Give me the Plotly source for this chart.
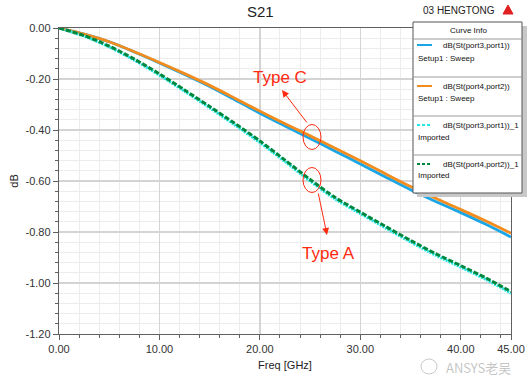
import plotly.graph_objects as go

# ---------------- data ----------------
freq_ghz = [0, 2.5, 5, 7.5, 10, 12.5, 15, 17.5, 20, 22.5, 25, 27.5, 30, 32.5, 35, 37.5, 40, 42.5, 45]
s31_sweep = [0, -0.024, -0.054, -0.094, -0.137, -0.182, -0.229, -0.281, -0.334, -0.384, -0.433,
             -0.483, -0.533, -0.584, -0.634, -0.680, -0.724, -0.770, -0.820]
s42_sweep = [0, -0.024, -0.054, -0.093, -0.135, -0.179, -0.225, -0.275, -0.326, -0.375, -0.423,
             -0.472, -0.521, -0.572, -0.622, -0.668, -0.712, -0.757, -0.805]
s31_imported = [0, -0.032, -0.074, -0.126, -0.185, -0.248, -0.313, -0.380, -0.449, -0.524, -0.600,
                -0.671, -0.728, -0.784, -0.839, -0.891, -0.938, -0.986, -1.040]
s42_imported = [0, -0.030, -0.071, -0.122, -0.180, -0.243, -0.308, -0.374, -0.443, -0.518, -0.594,
                -0.665, -0.722, -0.778, -0.833, -0.885, -0.932, -0.980, -1.034]

series_names = ["dB(St(port3,port1))", "dB(St(port4,port2))",
                "dB(St(port3,port1))_1", "dB(St(port4,port2))_1"]
series_sub = ["Setup1 : Sweep", "Setup1 : Sweep", "Imported", "Imported"]
series_colors = ["#1aa6e6", "#f28c1e", "#22e8e8", "#00873e"]
series_dash = ["solid", "solid", "2px,1px", "5px,2px"]

x_tick_vals = [0, 10, 20, 30, 40, 45]
x_tick_text = ["0.00", "10.00", "20.00", "30.00", "40.00", "45.00"]
y_tick_vals = [0, -0.2, -0.4, -0.6, -0.8, -1.0, -1.2]
y_tick_text = ["0.00", "-0.20", "-0.40", "-0.60", "-0.80", "-1.00", "-1.20"]

# ---------------- layout geometry ----------------
W, H = 532, 377
PL, PR, PT, PB = 59, 511, 28, 334   # plot area in pixels


def px(x):
    return (x - PL) / (PR - PL)


def py(y):
    return (PB - y) / (PB - PT)


FONT = "Arial, Liberation Sans, sans-serif"

fig = go.Figure()
values = [s31_sweep, s42_sweep, s31_imported, s42_imported]
for i in range(4):
    fig.add_trace(go.Scatter(
        x=freq_ghz, y=values[i], mode="lines", name=series_names[i],
        line=dict(color=series_colors[i], width=3 if i >= 2 else 2.8,
                  dash=series_dash[i], shape="spline", smoothing=0.8),
        showlegend=False, hoverinfo="skip"))

shapes = []
annotations = []

# title and header
annotations.append(dict(text="S21", x=px(260), y=py(12), xref="paper", yref="paper",
                        showarrow=False, font=dict(family=FONT, size=15, color="#222"),
                        xanchor="center", yanchor="middle"))
annotations.append(dict(text="03 HENGTONG", x=px(459), y=py(11), xref="paper", yref="paper",
                        showarrow=False, font=dict(family=FONT, size=10, color="#222"),
                        xanchor="center", yanchor="middle"))
# small red logo
shapes.append(dict(type="path", xref="paper", yref="paper",
                   path=f"M {px(503)} {py(14)} L {px(508)} {py(5)} L {px(513)} {py(14)} Z",
                   fillcolor="#e02020", line=dict(color="#e02020", width=1)))

# legend box (Curve Info)
LX0, LX1, LY0, LY1 = 413, 522, 22, 193
shapes.append(dict(type="rect", xref="paper", yref="paper",
                   x0=px(LX0 + 4), x1=px(LX1 + 5), y0=py(LY0 + 4), y1=py(LY1 + 4),
                   fillcolor="#c8c8c8", line=dict(width=0)))
shapes.append(dict(type="rect", xref="paper", yref="paper",
                   x0=px(LX0), x1=px(LX1), y0=py(LY0), y1=py(LY1),
                   fillcolor="white", line=dict(color="#555", width=1)))
for ysep in [39, 77, 116, 155]:
    shapes.append(dict(type="line", xref="paper", yref="paper",
                       x0=px(LX0), x1=px(LX1), y0=py(ysep), y1=py(ysep),
                       line=dict(color="#9a9a9a", width=1)))
annotations.append(dict(text="Curve Info", x=px(468), y=py(31), xref="paper", yref="paper",
                        showarrow=False, font=dict(family=FONT, size=8, color="#111"),
                        xanchor="center", yanchor="middle"))
entry_line_y = [45, 86, 125, 164]
entry_sub_y = [59, 99, 137, 176]
for i in range(4):
    shapes.append(dict(type="line", xref="paper", yref="paper",
                       x0=px(417), x1=px(432), y0=py(entry_line_y[i]), y1=py(entry_line_y[i]),
                       line=dict(color=series_colors[i], width=2,
                                 dash="solid" if i < 2 else "3px,2px")))
    annotations.append(dict(text=series_names[i], x=px(441), y=py(entry_line_y[i]),
                            xref="paper", yref="paper", showarrow=False,
                            font=dict(family=FONT, size=8, color="#111"),
                            xanchor="left", yanchor="middle"))
    annotations.append(dict(text=series_sub[i], x=px(416), y=py(entry_sub_y[i]),
                            xref="paper", yref="paper", showarrow=False,
                            font=dict(family=FONT, size=8, color="#111"),
                            xanchor="left", yanchor="middle"))

# Type C / Type A call-outs
RED = "#ff2a10"
for (cx, cy, tx, ty, hx, hy, sx, sy, label) in [
        (312, 137, 280, 77, 282, 90, 308, 124, "Type C"),
        (312, 180, 328, 253, 327, 235, 318, 192, "Type A")]:
    shapes.append(dict(type="circle", xref="paper", yref="paper",
                       x0=px(cx - 9), x1=px(cx + 9), y0=py(cy - 12.5), y1=py(cy + 12.5),
                       line=dict(color=RED, width=1)))
    annotations.append(dict(text="", x=px(hx), y=py(hy), xref="paper", yref="paper",
                            ax=sx - hx, ay=sy - hy, showarrow=True, arrowhead=2,
                            arrowsize=1.4, arrowwidth=1, arrowcolor=RED))
    annotations.append(dict(text=label, x=px(tx), y=py(ty), xref="paper", yref="paper",
                            showarrow=False, font=dict(family=FONT, size=17, color=RED),
                            xanchor="center", yanchor="middle"))

# watermark (nudged just below the tick labels so it does not collide with them)
annotations.append(dict(text="ANSYS老吴", x=px(478), y=py(367), xref="paper", yref="paper",
                        showarrow=False,
                        font=dict(family="Noto Sans CJK SC, " + FONT, size=13,
                                  color="rgba(140,140,140,0.5)"),
                        xanchor="center", yanchor="middle"))
shapes.append(dict(type="circle", xref="paper", yref="paper",
                   x0=px(421), x1=px(437), y0=py(359), y1=py(374),
                   line=dict(color="rgba(150,150,150,0.5)", width=1)))

axis_common = dict(
    showline=True, linecolor="#606060", linewidth=1.2, mirror=True,
    ticks="outside", ticklen=5, tickcolor="#606060", tickwidth=1,
    showgrid=True, gridcolor="#d4d4d4", gridwidth=1.3,
    zeroline=False, automargin=False,
    tickfont=dict(family=FONT, size=11, color="#333"),
)

fig.update_layout(
    width=W, height=H,
    margin=dict(l=PL, r=W - PR, t=PT, b=H - PB, autoexpand=False),
    paper_bgcolor="white", plot_bgcolor="white",
    showlegend=False,
    xaxis=dict(range=[0, 45], tickmode="array", tickvals=x_tick_vals, ticktext=x_tick_text,
               minor=dict(dtick=2, tick0=0, ticks="outside", ticklen=3, tickcolor="#606060",
                          showgrid=True, gridcolor="#ececec", gridwidth=1),
               title=dict(text="Freq [GHz]", font=dict(family=FONT, size=11, color="#222"),
                          standoff=6),
               **axis_common),
    yaxis=dict(range=[-1.2, 0], tickmode="array", tickvals=y_tick_vals, ticktext=y_tick_text,
               minor=dict(dtick=0.04, tick0=0, ticks="outside", ticklen=3, tickcolor="#606060",
                          showgrid=True, gridcolor="#ececec", gridwidth=1),
               title=dict(text="dB", font=dict(family=FONT, size=11, color="#222"),
                          standoff=4),
               **axis_common),
    shapes=shapes,
    annotations=annotations,
)

fig.write_html("out.html",
               config={"displayModeBar": False, "staticPlot": True},
               post_script="document.body.style.margin='0';document.body.style.overflow='hidden';")
